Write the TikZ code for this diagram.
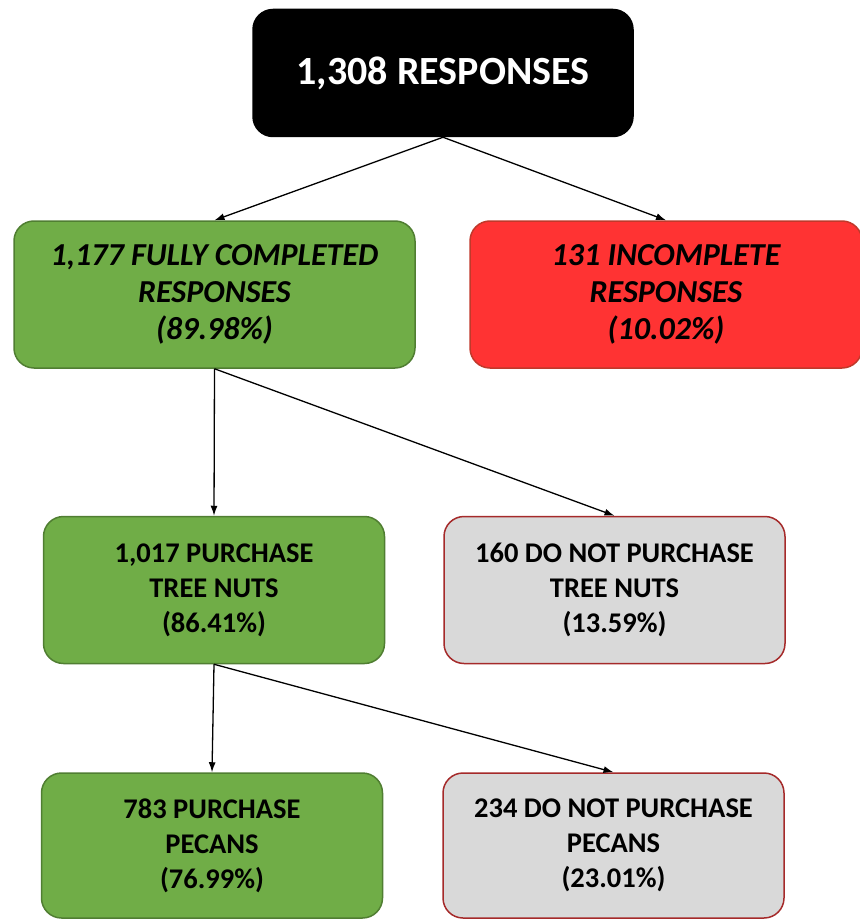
\documentclass[tikz,border=0pt]{standalone}
\usepackage{fontspec}
\setmainfont{Carlito}
\usetikzlibrary {positioning}
\usetikzlibrary {arrows.meta}
\definecolor{okgreen}{HTML}{70AD47}
\definecolor{okgreenline}{HTML}{507E32}
\definecolor{badred}{HTML}{FF3333}
\definecolor{badredline}{HTML}{C0392B}
\definecolor{nogrey}{HTML}{D9D9D9}
\definecolor{nogreyline}{HTML}{A52A2A}
\tikzset{
topbox/.style={rectangle,rounded corners=20pt,fill=black,draw=black,line width=1.5pt,minimum height=127pt,minimum width=380pt,inner sep=0pt,text=white,font=\fontsize{40}{48}\selectfont\bfseries}
}
\tikzset{
boxA/.style={rectangle,rounded corners=20pt,line width=1.5pt,minimum height=147pt,inner sep=0pt,align=center,font=\fontsize{32}{37}\selectfont\bfseries\itshape}
}
\tikzset{
boxB/.style={rectangle,rounded corners=20pt,line width=1.5pt,minimum height=147pt,minimum width=341pt,inner sep=0pt,align=center,font=\fontsize{28.5}{35}\selectfont\bfseries}
}
\tikzset{
arr/.style={line width=1.3pt,-{Latex[length=10pt,width=7pt]}}
}

\begin{document}
\begin{tikzpicture}

\useasboundingbox (0,0) rectangle (859pt,-920pt);

\node[topbox] (R) at (443pt,-73pt) {1,308 RESPONSES};
%------------------------------------------------------------------------------------------------------------%
\node[boxA,fill=okgreen,draw=okgreenline,minimum width=401pt] (C) at (214.5pt,-294.5pt) {1,177 FULLY COMPLETED\\RESPONSES\\(89.98\%)};
\node[boxA,fill=badred,draw=badredline,minimum width=392pt] (I) at (666pt,-294.5pt) {131 INCOMPLETE\\RESPONSES\\(10.02\%)};
\draw[arr] (R.south) -- (C.north);
\draw[arr] (R.south) -- (I.north);
%------------------------------------------------------------------------------------------------------------%
\node[boxB,fill=okgreen,draw=okgreenline] (T1) at (214pt,-590pt) {1,017 PURCHASE\\TREE NUTS\\(86.41\%)};
\node[boxB,fill=nogrey,draw=nogreyline,right=58pt of T1] (T0) {160 DO NOT PURCHASE\\TREE NUTS\\(13.59\%)};
\draw[arr] (C.south) -- (T1.north);
\draw[arr] (C.south) -- (T0.north);
%------------------------------------------------------------------------------------------------------------%
\node[boxB,fill=okgreen,draw=okgreenline,minimum height=145pt] (P1) at (212pt,-845.5pt) {783 PURCHASE\\PECANS\\(76.99\%)};
\node[boxB,fill=nogrey,draw=nogreyline,minimum height=145pt,right=59pt of P1] (P0) {234 DO NOT PURCHASE\\PECANS\\(23.01\%)};
\draw[arr] (T1.south) -- (P1.north);
\draw[arr] (T1.south) -- (P0.north);

\end{tikzpicture}
\end{document}
